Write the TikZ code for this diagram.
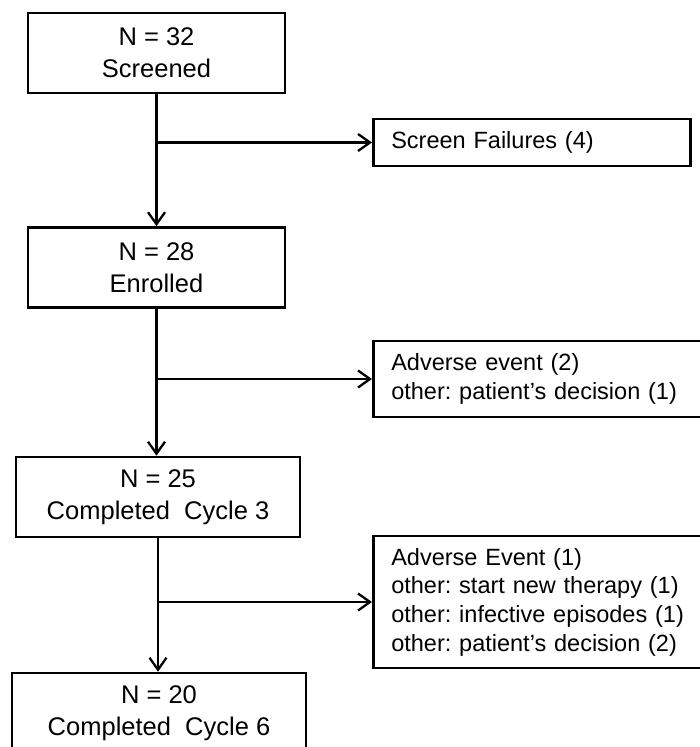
\documentclass[tikz,border=0pt]{standalone}
\usepackage{fontspec}
\setmainfont{Liberation Sans}
\usetikzlibrary{arrows.meta}
\frenchspacing
\begin{document}
\begin{tikzpicture}[x=1bp,y=-1bp,
  mainbox/.style={draw, line width=2.6bp, rectangle, minimum height=80bp, inner sep=0pt, align=center,
    font=\fontsize{25.5bp}{32bp}\selectfont},
  sidebox/.style={draw, line width=2.6bp, rectangle, inner xsep=18bp, inner ysep=0pt, align=left, anchor=west,
    font=\fontsize{23.5bp}{28.7bp}\selectfont},
  arr/.style={line width=2.3bp, -{Straight Barb[length=12bp,width=17bp,line width=2.3bp]}}
]
\useasboundingbox (0,0) rectangle (700,747);
\clip (0,0) rectangle (700,747);
\fill[white] (0,0) rectangle (700,747);

\node[mainbox, minimum width=257bp] (b1) at (156.5,53) {N = 32\\Screened};
\node[mainbox, minimum width=257bp] (b2) at (156.5,267.5) {N = 28\\Enrolled};
\node[mainbox, minimum width=284bp] (b3) at (158,497) {N = 25\\Completed\ \ Cycle 3};
\node[mainbox, minimum width=294bp] (b4) at (159,713) {N = 20\\Completed\ \ Cycle 6};

\node[sidebox, text width=281bp, minimum height=47bp] (sf) at (372,142.5) {Screen Failures (4)};
\node[sidebox, text width=297bp, minimum height=76bp] (ae1) at (372,379) {Adverse event (2)\\other: patient’s decision (1)};
\node[sidebox, text width=297bp, minimum height=132bp] (ae2) at (372,602) {Adverse Event (1)\\other: start new therapy (1)\\other: infective episodes (1)\\other: patient’s decision (2)};

\draw[arr] (b1.south) -- (b1.south |- b2.north);
\coordinate (j1) at (b1.south |- sf.west);
\draw[arr] (j1) -- (sf.west);

\draw[arr] (b2.south) -- (b2.south |- b3.north);
\coordinate (j2) at (b2.south |- ae1.west);
\draw[arr] (j2) -- (ae1.west);

\draw[arr] (b3.south) -- (b3.south |- b4.north);
\coordinate (j3) at (b3.south |- ae2.west);
\draw[arr] (j3) -- (ae2.west);
\end{tikzpicture}
\end{document}
